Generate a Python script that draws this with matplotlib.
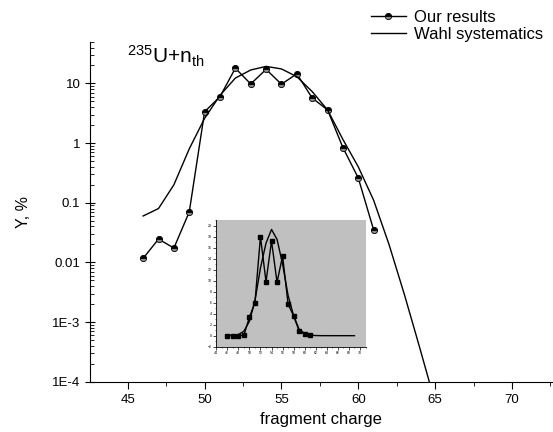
import numpy as np
import matplotlib
matplotlib.use('Agg')
import matplotlib.pyplot as plt
from matplotlib.ticker import MultipleLocator, LogLocator, NullFormatter

plt.rcParams['font.family'] = ['Liberation Sans', 'DejaVu Sans']
plt.rcParams['mathtext.default'] = 'regular'

# data
charge = [46, 47, 48, 49, 50, 51, 52, 53, 54, 55, 56, 57, 58, 59, 60, 61]
our_yield = [0.0117, 0.0246, 0.0174, 0.07, 3.35, 6.0, 18.0, 9.8, 17.2,
             9.7, 14.5, 5.7, 3.6, 0.84, 0.26, 0.035]

wahl_charge = [46, 47, 48, 49, 50, 51, 52, 53, 54, 55, 56, 57, 58, 59, 60,
               61, 62, 63, 64, 65, 66, 67, 68, 69]
wahl_yield = [0.06, 0.08, 0.2, 0.8, 2.6, 6.3, 12.3, 16.8, 19.3, 17.5, 13.0,
              7.3, 3.6, 1.15, 0.4, 0.11, 0.02, 0.0029, 0.00037, 0.000045,
              4e-6, 4e-7, 4e-8, 4e-9]

ytick_vals = [1e-4, 1e-3, 1e-2, 1e-1, 1, 10]
ytick_labels = ['1E-4', '1E-3', '0.01', '0.1', '1', '10']

fig = plt.figure(figsize=(5.53, 4.32), dpi=100)
ax = fig.add_axes([0.163, 0.1164, 0.835, 0.787])

ax.plot(charge, our_yield, color='black', lw=1, marker='o', ms=4.5,
        fillstyle='top', markerfacecolor='black', markerfacecoloralt='#8a8a8a',
        markeredgecolor='black', markeredgewidth=0.6, label='Our results')
ax.plot(wahl_charge, wahl_yield, color='black', lw=1, label='Wahl systematics')

ax.set_yscale('log')
ax.set_ylim(1e-4, 50)
ax.set_xlim(42.55, 72.6)
ax.set_yticks(ytick_vals)
ax.set_yticklabels(ytick_labels)
ax.yaxis.set_minor_locator(LogLocator(base=10, subs=np.arange(2, 10)))
ax.yaxis.set_minor_formatter(NullFormatter())
ax.xaxis.set_major_locator(MultipleLocator(5))
ax.xaxis.set_minor_locator(MultipleLocator(2.5))

for s in ['top', 'right']:
    ax.spines[s].set_visible(False)
ax.tick_params(axis='y', which='major', direction='inout', length=7, labelsize=9.5)
ax.tick_params(axis='y', which='minor', direction='in', length=3)
ax.tick_params(axis='x', which='major', direction='out', length=5, labelsize=9.5)
ax.tick_params(axis='x', which='minor', direction='out', length=3)

ax.set_xlabel('fragment charge', fontsize=12, labelpad=5)
ax.set_ylabel('Y, %', fontsize=11.5, labelpad=15)

ax.text(0.079, 0.935, r'$^{235}$U+n$_{th}$', transform=ax.transAxes,
        fontsize=15)

fig.legend(loc='upper right', bbox_to_anchor=(1.0, 1.0), frameon=False,
           fontsize=12, handlelength=2.1, handletextpad=0.5,
           labelspacing=0.1, borderaxespad=0.2)

# inset, linear scale
ins = fig.add_axes([0.390, 0.1975, 0.271, 0.293])
ins.set_facecolor('#c0c0c0')
ins.plot(charge, our_yield, color='black', lw=1, marker='s', ms=2.5)
ins.plot(wahl_charge, wahl_yield, color='black', lw=1)
ins.set_xlim(43.9, 71)
ins.set_ylim(-2, 21)
ins.xaxis.set_major_locator(MultipleLocator(2))
ins.yaxis.set_major_locator(MultipleLocator(2))
ins.xaxis.set_minor_locator(MultipleLocator(1))
ins.yaxis.set_minor_locator(MultipleLocator(1))
ins.tick_params(which='major', labelsize=2.5, length=2, width=0.5, pad=1)
ins.tick_params(which='minor', length=1, width=0.4)
for s in ['top', 'right']:
    ins.spines[s].set_visible(False)
for s in ['left', 'bottom']:
    ins.spines[s].set_linewidth(0.6)

fig.savefig('out.png', dpi=100)
